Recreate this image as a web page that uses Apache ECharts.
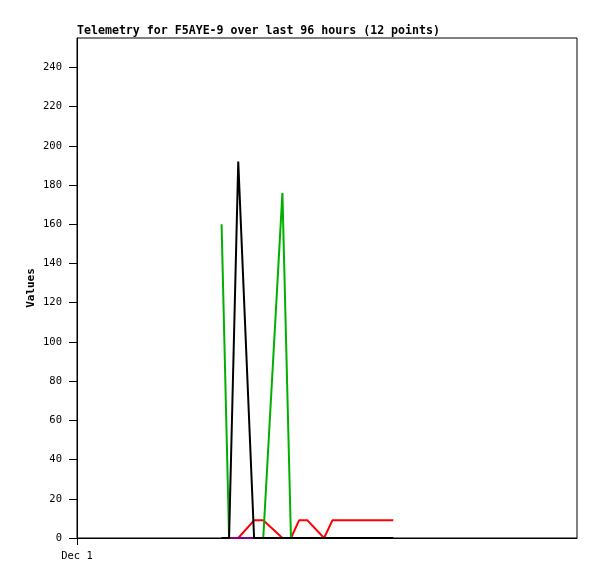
<!DOCTYPE html>
<html><head><meta charset="utf-8">
<script src="https://cdn.jsdelivr.net/npm/echarts@6/dist/echarts.min.js"></script>
<style>html,body{margin:0;padding:0;background:#fff}#c{width:597px;height:579px}</style>
</head><body><div id="c"></div>
<script>
// hours after Dec 1 00:00
const times = [6.94, 7.30, 7.74, 8.50, 8.94, 9.86, 10.27, 10.66, 11.06, 11.86, 12.26, 15.18];
const redVals = [0, 0, 0, 9, 9, 0, 0, 9, 9, 0, 9, 9];
const greenVals = [160, 0, 0, 0, 0, 176, 0, 0, 0, 0, 0, 0];
const purpleVals = [0, 0, 0, 0, 0, 0, 0, 0, 0, 0, 0, 0];
const blackVals = [0, 0, 192, 0, 0, 0, 0, 0, 0, 0, 0, 0];
const yTicks = [0, 20, 40, 60, 80, 100, 120, 140, 160, 180, 200, 220, 240];
const xTickValues = [0];
const xTickLabels = ['Dec 1'];
const titleText = 'Telemetry for F5AYE-9 over last 96 hours (12 points)';

const pairs = v => times.map((t, i) => [t, v[i]]);
const mono = 'DejaVu Sans Mono';
const mk = (vals, color) => ({
  type: 'line', data: pairs(vals), showSymbol: false, symbol: 'none',
  lineStyle: { color: color, width: 2 }, itemStyle: { color: color }, animation: false
});

const chart = echarts.init(document.getElementById('c'));
chart.setOption({
  animation: false,
  title: { text: titleText, left: 77, top: 25, padding: 0, textStyle: { fontFamily: mono, fontSize: 11.6, fontWeight: 'bold', color: '#000' } },
  grid: { left: 77, right: 20, top: 38, bottom: 41, show: true, borderColor: '#000', borderWidth: 1, backgroundColor: 'transparent' },
  xAxis: {
    type: 'value', min: 0, max: 24,
    axisLine: { lineStyle: { color: '#000', width: 1 } },
    axisTick: { show: true, length: 7, customValues: xTickValues, lineStyle: { color: '#000' } },
    axisLabel: { customValues: xTickValues, formatter: v => xTickLabels[xTickValues.indexOf(v)] || '', fontFamily: mono, fontSize: 10.5, color: '#000', margin: 13 },
    splitLine: { show: false }
  },
  yAxis: {
    type: 'value', min: 0, max: 255,
    name: 'Values', nameLocation: 'middle', nameGap: 40, nameMoveOverlap: false,
    nameTextStyle: { fontFamily: mono, fontSize: 11, fontWeight: 'bold', color: '#000' },
    axisLine: { show: true, lineStyle: { color: '#000', width: 1 } },
    axisTick: { show: true, length: 8, customValues: yTicks, lineStyle: { color: '#000' } },
    axisLabel: { customValues: yTicks, fontFamily: mono, fontSize: 10.5, color: '#000', margin: 15 },
    splitLine: { show: false }
  },
  series: [
    mk(redVals, '#ff0000'),
    mk(greenVals, '#00b000'),
    mk(purpleVals, '#800080'),
    mk(blackVals, '#000000')
  ]
});
</script></body></html>
